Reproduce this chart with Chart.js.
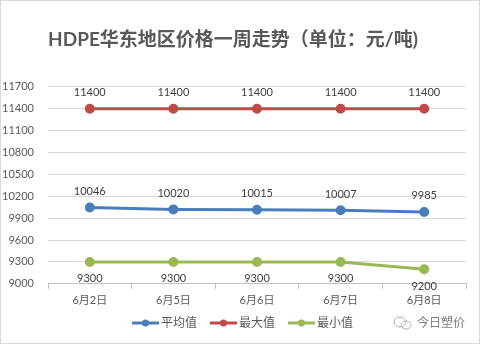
<!DOCTYPE html>
<html>
<head>
<meta charset="utf-8">
<script src="https://cdn.jsdelivr.net/npm/chart.js@4.4.1/dist/chart.umd.min.js"></script>
<style>
  html, body { margin: 0; padding: 0; background: #fff; }
  #wrap { width: 480px; height: 344px; position: relative; }
</style>
</head>
<body>
<div id="wrap"><canvas id="c" width="480" height="344"></canvas></div>
<script>
// Dates of the week
const categories = ['6月2日', '6月5日', '6月6日', '6月7日', '6月8日'];
// Prices, 元/吨
const avgValues = [10046, 10020, 10015, 10007, 9985];
const maxValues = [11400, 11400, 11400, 11400, 11400];
const minValues = [9300, 9300, 9300, 9300, 9200];
const seriesNames = ['平均值', '最大值', '最小值'];
const yTicks = [9000, 9300, 9600, 9900, 10200, 10500, 10800, 11100, 11400, 11700];

const colors = ['#4a7ebb', '#be4b48', '#98b954'];
const FONT = "Lato, 'Noto Sans CJK SC', sans-serif";

// White background, frame, value labels, legend row and corner mark
const decor = {
  id: 'decor',
  beforeDraw(chart) {
    const ctx = chart.ctx;
    ctx.save();
    ctx.fillStyle = '#fff';
    ctx.fillRect(0, 0, chart.width, chart.height);
    ctx.restore();
  },
  afterDatasetsDraw(chart) {
    const ctx = chart.ctx;
    ctx.save();
    ctx.font = '11px ' + FONT;
    ctx.fillStyle = '#404040';
    ctx.textAlign = 'center';
    ctx.textBaseline = 'middle';
    chart.data.datasets.forEach((ds, i) => {
      const meta = chart.getDatasetMeta(i);
      meta.data.forEach((pt, j) => {
        const below = i === 2;
        ctx.fillText(String(ds.data[j]), pt.x, below ? pt.y + 17 : pt.y - 16);
      });
    });
    ctx.restore();
  },
  afterDraw(chart) {
    const ctx = chart.ctx;
    ctx.save();
    // legend row
    const ly = 323;
    let x = 132;
    ctx.font = '12px ' + FONT;
    ctx.textBaseline = 'middle';
    ctx.textAlign = 'left';
    chart.data.datasets.forEach((ds, i) => {
      const c = colors[i];
      ctx.strokeStyle = c; ctx.lineWidth = 3;
      ctx.beginPath(); ctx.moveTo(x, ly); ctx.lineTo(x + 27, ly); ctx.stroke();
      ctx.fillStyle = c;
      ctx.beginPath(); ctx.arc(x + 13.5, ly, 3.5, 0, Math.PI * 2); ctx.fill();
      ctx.fillStyle = '#595959';
      ctx.fillText(ds.label, x + 29, ly);
      x += 29 + ctx.measureText(ds.label).width + 13;
    });
    // frame
    ctx.strokeStyle = '#d9d9d9';
    ctx.lineWidth = 1;
    ctx.strokeRect(0.5, 0.5, chart.width - 1, chart.height - 1);
    // corner mark
    ctx.fillStyle = '#7f7f7f';
    ctx.font = '12px ' + FONT;
    ctx.fillText('今日塑价', 417, 323);
    ctx.strokeStyle = '#b0b0b0';
    ctx.lineWidth = 1;
    ctx.beginPath(); ctx.ellipse(400, 322, 6, 5, 0, 0, Math.PI * 2); ctx.stroke();
    ctx.beginPath(); ctx.ellipse(406, 325, 5, 4, 0, 0, Math.PI * 2); ctx.stroke();
    ctx.restore();
  }
};

const mk = (label, data, color) => ({
  label, data,
  borderColor: color, backgroundColor: color,
  borderWidth: 3, pointRadius: 3.5, pointHoverRadius: 3.5,
  pointBackgroundColor: color, pointBorderColor: color,
  tension: 0, fill: false
});

new Chart(document.getElementById('c'), {
  type: 'line',
  data: {
    labels: categories,
    datasets: [
      mk(seriesNames[0], avgValues, colors[0]),
      mk(seriesNames[1], maxValues, colors[1]),
      mk(seriesNames[2], minValues, colors[2])
    ]
  },
  options: {
    responsive: false,
    animation: false,
    devicePixelRatio: 1,
    layout: { padding: { left: 0, right: 14, top: 0, bottom: 32 } },
    plugins: {
      title: {
        display: true,
        text: 'HDPE华东地区价格一周走势（单位：元/吨)',
        color: '#595959',
        font: { family: FONT, size: 19, weight: 'bold' },
        padding: { top: 28, bottom: 36 }
      },
      legend: { display: false },
      tooltip: { enabled: false }
    },
    scales: {
      x: {
        offset: true,
        grid: {
          offset: true,
          drawOnChartArea: false,
          drawTicks: true,
          tickLength: 5,
          color: '#bfbfbf'
        },
        border: { display: true, color: '#bfbfbf' },
        ticks: { color: '#595959', font: { family: FONT, size: 11 }, padding: 5 }
      },
      y: {
        min: 9000,
        max: 11700,
        afterBuildTicks(scale) { scale.ticks = yTicks.map(v => ({ value: v })); },
        afterFit(scale) { scale.width = 48; },
        grid: { color: '#d9d9d9', drawTicks: false },
        border: { display: false },
        ticks: {
          color: '#595959',
          font: { family: FONT, size: 11 },
          padding: 14,
          callback: v => String(v)
        }
      }
    }
  },
  plugins: [decor]
});
</script>
</body>
</html>
